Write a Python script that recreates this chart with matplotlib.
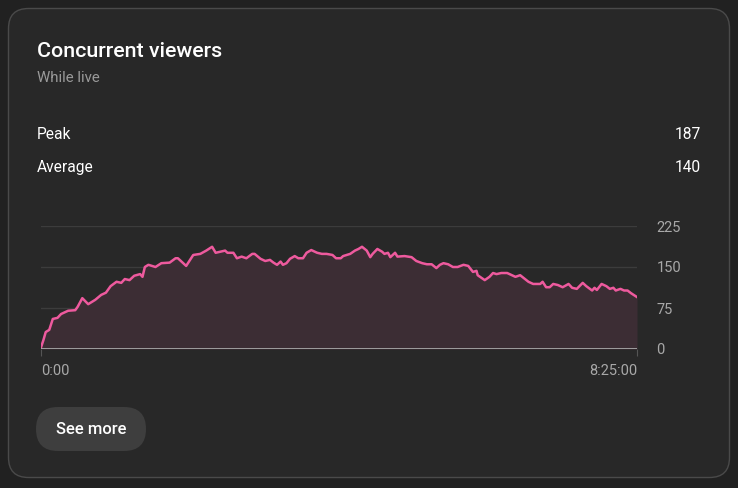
import matplotlib
matplotlib.use("Agg")
import matplotlib.pyplot as plt
from matplotlib.patches import FancyBboxPatch

plt.rcParams['font.family'] = ['Roboto', 'DejaVu Sans']

#----------------------------------------------------------
# Data (minutes since start, concurrent viewers)
#----------------------------------------------------------
minutes = [0, 2, 4, 7, 10, 14, 17, 23, 29, 31, 35, 40, 46, 51, 55, 59, 64, 68,
           71, 75, 79, 84, 86, 88, 91, 97, 102, 109, 114, 116, 123, 129, 135,
           140, 145, 148, 156, 158, 163, 166, 170, 174, 179, 181, 186, 190, 194,
           197, 200, 203, 205, 208, 211, 215, 218, 222, 225, 229, 234, 238, 242,
           247, 250, 254, 256, 262, 266, 269, 272, 276, 279, 281, 285, 289, 291,
           294, 296, 300, 302, 308, 314, 318, 323, 327, 331, 335, 338, 341, 345,
           349, 353, 358, 362, 366, 369, 370, 376, 380, 383, 386, 390, 395, 399,
           402, 406, 410, 413, 417, 423, 425, 428, 431, 434, 438, 442, 447, 450,
           454, 459, 462, 467, 469, 471, 475, 479, 482, 485, 487, 491, 494, 497,
           500, 505]
viewers = [3, 16, 31, 35, 55, 57, 64, 70, 71, 77, 93, 82, 90, 99, 103, 115, 123, 121,
           128, 126, 134, 137, 132, 150, 154, 150, 157, 158, 166, 166, 152, 172, 174,
           180, 187, 176, 180, 176, 176, 166, 169, 166, 174, 174, 165, 161, 163,
           158, 154, 160, 154, 157, 165, 170, 166, 166, 176, 181, 176, 174, 174,
           172, 166, 166, 170, 174, 180, 183, 187, 180, 168, 174, 183, 178, 174,
           176, 168, 176, 169, 170, 168, 161, 157, 155, 155, 148, 154, 157, 155,
           150, 150, 154, 152, 141, 143, 135, 126, 132, 139, 137, 139, 139, 135,
           132, 135, 128, 123, 119, 119, 123, 113, 113, 119, 117, 113, 119, 112,
           110, 121, 115, 107, 112, 108, 119, 115, 110, 112, 107, 110, 107, 107,
           102, 95]

y_ticks = [0, 75, 150, 225]
x_labels = ["0:00", "8:25:00"]
peak = 187
average = 140

W, H = 738, 488
BG = "#212121"
CARD = "#282828"
PINK = "#ee5a9e"

fig = plt.figure(figsize=(W / 100, H / 100), dpi=100)
fig.patch.set_facecolor(BG)

# overlay in pixel coordinates for the card and texts
bg = fig.add_axes([0, 0, 1, 1])
bg.set_xlim(0, W)
bg.set_ylim(H, 0)
bg.axis("off")

card = FancyBboxPatch((8.5, 8.5), 721, 469, boxstyle="round,pad=0,rounding_size=20",
                      fc=CARD, ec="#4a4a4a", lw=1.0)
bg.add_patch(card)

bg.text(37, 57, "Concurrent viewers", color="white", fontsize=15.4,
        fontweight="medium", va="baseline")
bg.text(37, 82, "While live", color="#9a9a9a", fontsize=10.8, va="baseline")

bg.text(37, 139, "Peak", color="white", fontsize=11.2, va="baseline")
bg.text(701, 139, str(peak), color="white", fontsize=11.2, va="baseline", ha="right")
bg.text(37, 172, "Average", color="white", fontsize=11.2, va="baseline")
bg.text(701, 172, str(average), color="white", fontsize=11.2, va="baseline", ha="right")

btn = FancyBboxPatch((36, 407), 110, 44, boxstyle="round,pad=0,rounding_size=22",
                     fc="#3e3e3e", ec="none")
bg.add_patch(btn)
bg.text(91, 429, "See more", color="white", fontsize=12, fontweight="medium",
        ha="center", va="center")

#----------------------------------------------------------
# Chart
#----------------------------------------------------------
ax = fig.add_axes([41 / W, 1 - 349 / H, 596 / W, 123 / H])
ax.set_facecolor("none")
ax.set_xlim(0, 505)
ax.set_ylim(0, 225)

for v in y_ticks[1:]:
    ax.axhline(v, color="#3c3c3c", lw=1, zorder=1)

ax.fill_between(minutes, viewers, 0, color="#3c2d34", lw=0, zorder=2)
ax.plot(minutes, viewers, color=PINK, lw=1.8, zorder=3)
ax.axhline(0, color="#b0b0b0", lw=1.2, zorder=4)

for s in ax.spines.values():
    s.set_visible(False)

ax.set_yticks(y_ticks)
ax.set_yticklabels([str(v) for v in y_ticks])
ax.tick_params(axis="y", left=False, labelleft=False, right=False, labelright=True,
               colors="#a8a8a8", labelsize=10.5, pad=10.5)
for lbl in ax.get_yticklabels():
    lbl.set_horizontalalignment("left")

ax.set_xticks([0, 505])
ax.set_xticklabels(x_labels)
ax.tick_params(axis="x", length=5, color="#555555", labelcolor="#a8a8a8",
               labelsize=10.5, pad=6)
xl = ax.get_xticklabels()
xl[0].set_horizontalalignment("left")
xl[1].set_horizontalalignment("right")

fig.savefig("out.png", dpi=100, facecolor=BG)
